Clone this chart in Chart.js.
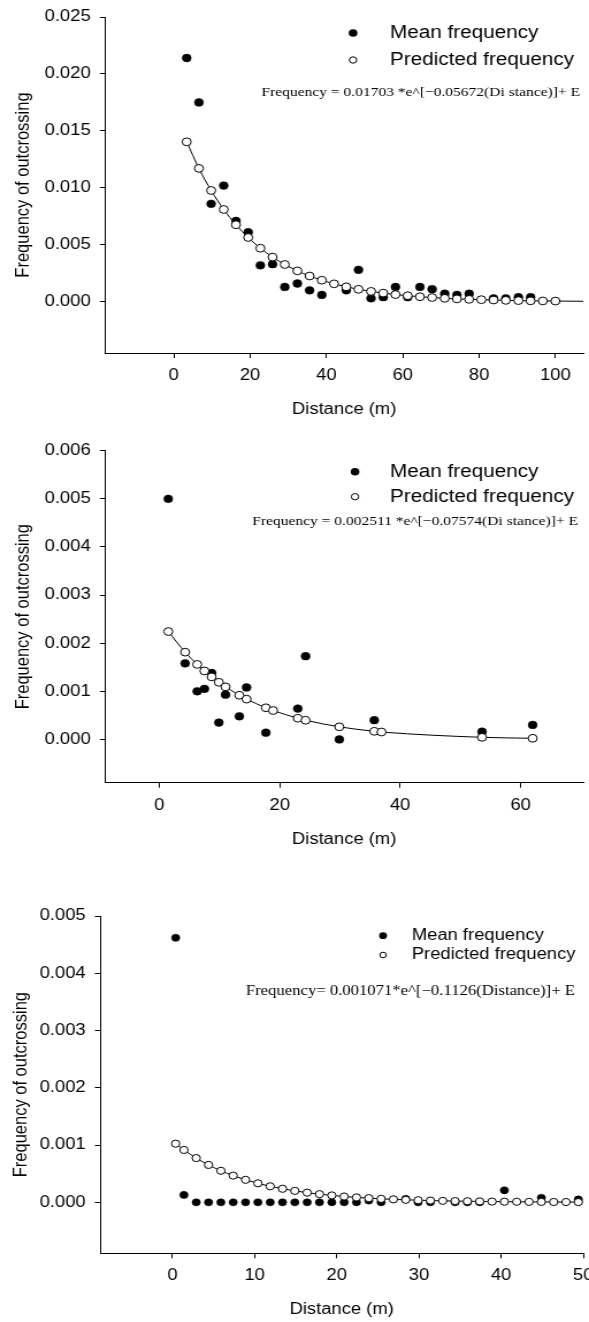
<!DOCTYPE html>
<html>
<head>
<meta charset="utf-8">
<script src="https://cdn.jsdelivr.net/npm/chart.js@4.4.1/dist/chart.umd.min.js"></script>
<style>
  html, body { margin: 0; padding: 0; background: #fff; width: 589px; height: 1322px; overflow: hidden; }
  .panel { position: absolute; left: 0; width: 512px; transform: scaleX(1.1504); transform-origin: 0 0; }
</style>
</head>
<body>
<div class="panel" style="top:0;height:425px"><canvas id="c1"></canvas></div>
<div class="panel" style="top:435px;height:420px"><canvas id="c2"></canvas></div>
<div class="panel" style="top:900px;height:422px"><canvas id="c3"></canvas></div>
<script>
// ---- panel 1 ----
var xTicks1 = [0, 20, 40, 60, 80, 100];
var yTicks1 = [0, 0.005, 0.010, 0.015, 0.020, 0.025];
var meanDist1 = [3.4, 6.6, 9.8, 13.1, 16.3, 19.5, 22.7, 25.9, 29.1, 32.4, 35.6, 38.8, 45.2, 48.4, 51.7, 54.9, 58.1, 61.3, 64.5, 67.7, 71.0, 74.2, 77.4, 83.8, 87.0, 90.3, 93.5];
var meanFreq1 = [0.0214, 0.0175, 0.0086, 0.0102, 0.0071, 0.0061, 0.0032, 0.0033, 0.0013, 0.0016, 0.0010, 0.0006, 0.0010, 0.0028, 0.0003, 0.0004, 0.0013, 0.0004, 0.0013, 0.0011, 0.0007, 0.0006, 0.0007, 0.0003, 0.0003, 0.0004, 0.0004];
var predDist1 = [3.4, 6.6, 9.8, 13.1, 16.3, 19.5, 22.7, 25.9, 29.1, 32.4, 35.6, 38.8, 42.0, 45.2, 48.4, 51.7, 54.9, 58.1, 61.3, 64.5, 67.7, 71.0, 74.2, 77.4, 80.6, 83.8, 87.0, 90.3, 93.5, 96.7, 100];
var predFreq1 = [0.01404, 0.01171, 0.00977, 0.00810, 0.00676, 0.00564, 0.00470, 0.00392, 0.00327, 0.00271, 0.00226, 0.00189, 0.00157, 0.00131, 0.00109, 0.00091, 0.00076, 0.00063, 0.00053, 0.00044, 0.00037, 0.00030, 0.00025, 0.00021, 0.00018, 0.00015, 0.00012, 0.00010, 0.00008, 0.00007, 0.00006];
var tailDist1 = [100, 107.3];
var tailFreq1 = [0.00006, 0.00004];
var equation1 = 'Frequency = 0.01703 *e^[\u22120.05672(Di stance)]+ E';

// ---- panel 2 ----
var xTicks2 = [0, 20, 40, 60];
var yTicks2 = [0, 0.001, 0.002, 0.003, 0.004, 0.005, 0.006];
var meanDist2 = [1.5, 4.3, 6.3, 7.5, 8.7, 9.9, 11.0, 13.3, 14.5, 17.7, 23.0, 24.3, 29.9, 35.7, 53.6, 62.0];
var meanFreq2 = [0.0050, 0.00158, 0.00100, 0.00105, 0.00138, 0.00035, 0.00093, 0.00048, 0.00108, 0.00014, 0.00064, 0.00173, 0.0, 0.00040, 0.00016, 0.00030];
var predDist2 = [1.5, 4.3, 6.3, 7.5, 8.7, 9.9, 11.0, 13.3, 14.5, 17.7, 18.9, 23.0, 24.3, 29.9, 35.7, 36.9, 53.6, 62.0];
var predFreq2 = [0.002241, 0.001813, 0.001558, 0.001423, 0.001299, 0.001187, 0.001092, 0.000917, 0.000837, 0.000657, 0.000600, 0.000440, 0.000398, 0.000261, 0.000168, 0.000153, 0.000043, 0.000023];
var equation2 = 'Frequency = 0.002511 *e^[\u22120.07574(Di stance)]+ E';

// ---- panel 3 ----
var xTicks3 = [0, 10, 20, 30, 40, 50];
var yTicks3 = [0, 0.001, 0.002, 0.003, 0.004, 0.005];
var meanDist3 = [0.4, 1.4, 2.9, 4.4, 5.9, 7.4, 8.9, 10.4, 11.9, 13.4, 14.9, 16.4, 17.9, 19.4, 20.9, 22.4, 23.9, 25.4, 28.4, 29.9, 31.4, 34.4, 35.9, 37.4, 40.4, 44.9, 49.4];
var meanFreq3 = [0.00462, 0.00013, 0, 0, 0, 0, 0, 0, 0, 0, 0, 0, 0, 0, 0, 0, 0.00003, 0, 0.00006, 0, 0, 0, 0, 0, 0.00021, 0.00008, 0.00005];
var predDist3 = [0.4, 1.4, 2.9, 4.4, 5.9, 7.4, 8.9, 10.4, 11.9, 13.4, 14.9, 16.4, 17.9, 19.4, 20.9, 22.4, 23.9, 25.4, 26.9, 28.4, 29.9, 31.4, 32.9, 34.4, 35.9, 37.4, 38.9, 40.4, 41.9, 43.4, 44.9, 46.4, 47.9, 49.4];
var predFreq3 = [0.001024, 0.000915, 0.000773, 0.000653, 0.000551, 0.000466, 0.000393, 0.000332, 0.000280, 0.000237, 0.000200, 0.000169, 0.000143, 0.000121, 0.000102, 0.000086, 0.000073, 0.000061, 0.000052, 0.000044, 0.000037, 0.000031, 0.000026, 0.000022, 0.000019, 0.000016, 0.000013, 0.000011, 0.000010, 0.000008, 0.000007, 0.000006, 0.000005, 0.000004];
var equation3 = 'Frequency= 0.001071*e^[\u22120.1126(Distance)]+ E';

var legendNames = ['Mean frequency', 'Predicted frequency'];
var SANS = 'Liberation Sans, Arial, sans-serif';
var SERIF = 'Liberation Serif, Times New Roman, serif';

function pts(xs, ys) {
    var out = [];
    for (var i = 0; i < xs.length; i++) out.push({ x: xs[i], y: ys[i] });
    return out;
}

// draws the legend box and the fitted equation inside the plot
var notesPlugin = {
    id: 'notes',
    afterDraw: function (chart) {
        var o = chart.options.plugins.notes;
        var ctx = chart.ctx;
        ctx.save();
        ctx.textBaseline = 'middle';
        ctx.fillStyle = '#000';
        ctx.strokeStyle = '#000';
        ctx.lineWidth = 1;
        for (var i = 0; i < 2; i++) {
            ctx.beginPath();
            ctx.arc(o.markX, o.rows[i], i == 0 ? o.markR : o.markR - 0.6, 0, Math.PI * 2);
            if (i == 0) { ctx.fill(); } else { ctx.fillStyle = '#fff'; ctx.fill(); ctx.stroke(); ctx.fillStyle = '#000'; }
            ctx.font = o.legendSize + 'px ' + SANS;
            ctx.textAlign = 'left';
            ctx.fillText(legendNames[i], o.textX, o.rows[i]);
        }
        ctx.font = o.eqSize + 'px ' + SERIF;
        ctx.textAlign = 'right';
        ctx.fillText(o.equation, o.eqRight, o.eqY);
        ctx.restore();
    }
};

function makeChart(id, p) {
    var ctx = document.getElementById(id).getContext('2d');
    var datasets = [{
        label: legendNames[1],
        data: pts(p.predX, p.predY),
        showLine: true,
        borderColor: '#000',
        borderWidth: 1,
        cubicInterpolationMode: 'monotone',
        pointRadius: p.r,
        pointBackgroundColor: '#fff',
        pointBorderColor: '#000',
        pointBorderWidth: 1,
        order: 0
    }];
    if (p.tailX) {
        datasets.push({
            label: 'fit',
            data: pts(p.tailX, p.tailY),
            showLine: true,
            borderColor: '#000',
            borderWidth: 1,
            pointRadius: 0,
            order: 1
        });
    }
    datasets.push({
        label: legendNames[0],
        data: pts(p.meanX, p.meanY),
        showLine: false,
        pointRadius: p.r,
        pointBackgroundColor: '#000',
        pointBorderColor: '#000',
        pointBorderWidth: 0.5,
        order: 2
    });

    return new Chart(ctx, {
        type: 'scatter',
        data: { datasets: datasets },
        plugins: [notesPlugin],
        options: {
            responsive: true,
            maintainAspectRatio: false,
            animation: false,
            layout: { padding: { top: p.top, right: p.right, bottom: 0, left: 0 } },
            plugins: {
                legend: { display: false },
                tooltip: { enabled: false },
                notes: p.notes
            },
            scales: {
                x: {
                    type: 'linear',
                    min: p.xMin,
                    max: p.xMax,
                    afterBuildTicks: function (ax) {
                        ax.ticks = p.xTicks.map(function (v) { return { value: v }; });
                    },
                    afterFit: function (ax) {
                        ax.height = p.xH;
                        ax.paddingLeft = 0;
                        ax.paddingRight = 0;
                    },
                    grid: { display: true, drawOnChartArea: false, drawTicks: true, tickLength: 5, color: '#000', lineWidth: 1 },
                    border: { display: true, color: '#000', width: 1 },
                    ticks: { color: '#000', font: { family: SANS, size: 16 }, padding: 8, maxRotation: 0, autoSkip: false },
                    title: { display: true, text: 'Distance (m)', color: '#000', font: { family: SANS, size: 16 }, padding: { top: 0, bottom: p.xTitlePad } }
                },
                y: {
                    type: 'linear',
                    min: p.yMin,
                    max: p.yMax,
                    afterBuildTicks: function (ax) {
                        ax.ticks = p.yTicks.map(function (v) { return { value: v }; });
                    },
                    afterFit: function (ax) {
                        ax.width = p.yW;
                        ax.paddingTop = 0;
                        ax.paddingBottom = 0;
                    },
                    grid: { display: true, drawOnChartArea: false, drawTicks: true, tickLength: 4.5, color: '#000', lineWidth: 1 },
                    border: { display: true, color: '#000', width: 1 },
                    ticks: {
                        color: '#000', font: { family: SANS, size: 16 }, padding: 8, autoSkip: false,
                        callback: function (v) { return Number(v).toFixed(3); }
                    },
                    title: { display: true, text: 'Frequency of outcrossing', color: '#000', font: { family: SANS, size: 16.5 }, padding: { top: p.yTitlePad, bottom: 0 } }
                }
            }
        }
    });
}

makeChart('c1', {
    meanX: meanDist1, meanY: meanFreq1, predX: predDist1, predY: predFreq1, tailX: tailDist1, tailY: tailFreq1,
    xTicks: xTicks1, yTicks: yTicks1, xMin: -18, xMax: 107.3, yMin: -0.0045, yMax: 0.025,
    r: 3.9, top: 17, right: 0, xH: 72, yW: 91.3, xTitlePad: 5.4, yTitlePad: 11,
    notes: { markX: 306.9, textX: 339, rows: [33, 60], markR: 3.8, legendSize: 18, equation: equation1, eqRight: 504.2, eqY: 92, eqSize: 13.5 }
});

makeChart('c2', {
    meanX: meanDist2, meanY: meanFreq2, predX: predDist2, predY: predFreq2,
    xTicks: xTicks2, yTicks: yTicks2, xMin: -9, xMax: 70.4, yMin: -0.0009, yMax: 0.006,
    r: 3.9, top: 15.7, right: 0, xH: 72.3, yW: 91.3, xTitlePad: 5.4, yTitlePad: 11,
    notes: { markX: 308.6, textX: 339, rows: [36.7, 61.7], markR: 3.8, legendSize: 18, equation: equation2, eqRight: 502.4, eqY: 86.7, eqSize: 13.5 }
});

makeChart('c3', {
    meanX: meanDist3, meanY: meanFreq3, predX: predDist3, predY: predFreq3,
    xTicks: xTicks3, yTicks: yTicks3, xMin: -8.8, xMax: 50, yMin: -0.00089, yMax: 0.005,
    r: 3.6, top: 16, right: 3.5, xH: 68.7, yW: 87, xTitlePad: 2.4, yTitlePad: 8.4,
    notes: { markX: 333, textX: 357.9, rows: [35.7, 55], markR: 3.4, legendSize: 16, equation: equation3, eqRight: 499.8, eqY: 91, eqSize: 14.5 }
});
</script>
</body>
</html>
